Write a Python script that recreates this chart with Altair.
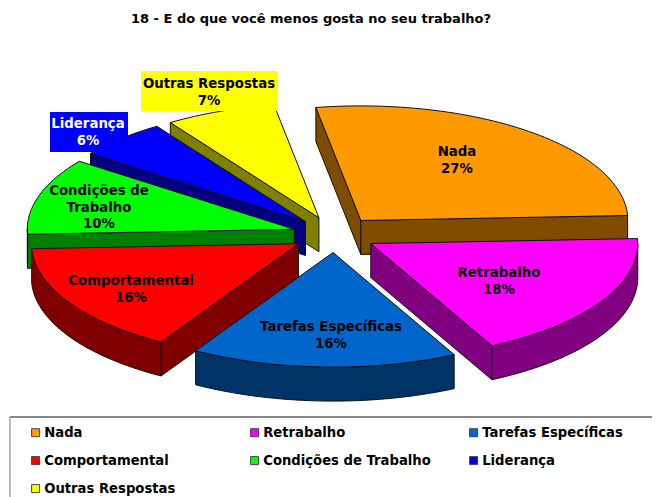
import math
import altair as alt
import pandas as pd

TITLE = "18 - E do que você menos gosta no seu trabalho?"
names = ["Nada", "Retrabalho", "Tarefas Específicas", "Comportamental",
         "Condições de Trabalho", "Liderança", "Outras Respostas"]
values = [27, 18, 16, 16, 10, 6, 7]
slice_shares = [27, 18.2, 16.1, 15.7, 10.8, 5.5, 6.7]
colors = ["#FF9900", "#FF00FF", "#0066CC", "#FF0000", "#00FF00", "#0000FF", "#FFFF00"]
sides = ["#804D00", "#800080", "#003366", "#800000", "#008000", "#000080", "#808000"]
label_lines = ["Nada", "Retrabalho", "Tarefas Específicas", "Comportamental",
               "Condições de\nTrabalho", "Liderança", "Outras Respostas"]

# layout (page pixels)
PAD_TOP = 30
ORIGIN_X, ORIGIN_Y = 8, 8 + PAD_TOP
W, H = 644, 497 - ORIGIN_Y
CX, CY = 334.5, 234.5
RX, RY = 267, 114.6
EX, EY = 42, 18
DEPTH = 34
START = -9.7
paint_order = [6, 5, 4, 3, 0, 1, 2]
label_pos = [(457, 152), (499, 273), (331, 327), (131, 281), (99, 191), (88, 124), (209, 84)]
label_color = ["black"] * 5 + ["white", "black"]
boxes = [(5, 50, 128, 112, 152), (6, 141, 278, 71, 111)]

xs = alt.Scale(domain=[ORIGIN_X, ORIGIN_X + W], nice=False, zero=False)
ys = alt.Scale(domain=[ORIGIN_Y + H, ORIGIN_Y], nice=False, zero=False)
X = lambda f="x": alt.X(f"{f}:Q", scale=xs, axis=None)
Y = lambda f="y": alt.Y(f"{f}:Q", scale=ys, axis=None)

total = sum(slice_shares)
spans = []
a = START
for v in slice_shares:
    b = a + 360 * v / total
    spans.append((a, b))
    a = b


def pt(ax, ay, t, dy=0):
    r = math.radians(t)
    return ax + RX * math.sin(r), ay - RY * math.cos(r) + dy


def arc(ax, ay, t0, t1, dy=0):
    n = max(2, int(abs(t1 - t0) / 1.5))
    return [pt(ax, ay, t0 + (t1 - t0) * k / n, dy) for k in range(n + 1)]


def rows(poly, key):
    poly = list(poly) + [poly[0]]
    return [{"p": key, "i": i, "x": p[0], "y": p[1]} for i, p in enumerate(poly)]


layers = []
for idx in paint_order:
    t0, t1 = spans[idx]
    mid = math.radians((t0 + t1) / 2)
    ax, ay = CX + EX * math.sin(mid), CY - EY * math.cos(mid)
    wall = []
    # only the radial faces turned towards the viewer are drawn
    faces = []
    if math.sin(math.radians(t0)) < 0:
        faces.append(t0)
    if math.sin(math.radians(t1)) > 0:
        faces.append(t1)
    for n, t in enumerate(faces):
        e = pt(ax, ay, t)
        wall += rows([(ax, ay), e, (e[0], e[1] + DEPTH), (ax, ay + DEPTH)], f"r{n}")
    lo, hi = max(t0, 90), min(t1, 270)
    if lo < hi:
        wall += rows(arc(ax, ay, lo, hi) + arc(ax, ay, hi, lo, DEPTH), "arc")
    layers.append(
        alt.Chart(pd.DataFrame(wall))
        .mark_line(fill=sides[idx], stroke="#111111", strokeWidth=1, strokeJoin="round")
        .encode(x=X(), y=Y(), detail="p:N", order="i:Q")
    )
    top = rows([(ax, ay)] + arc(ax, ay, t0, t1), "top")
    for r in top:
        r["name"] = names[idx]
    layers.append(
        alt.Chart(pd.DataFrame(top))
        .mark_line(stroke="#111111", strokeWidth=1, strokeJoin="round")
        .encode(
            x=X(), y=Y(), order="i:Q",
            fill=alt.Fill(
                "name:N",
                sort=names,
                scale=alt.Scale(domain=names, range=colors),
                legend=alt.Legend(
                    title=None, orient="none", direction="horizontal",
                    legendX=21, legendY=426 - ORIGIN_Y,
                    columns=3, gridAlign="all", columnPadding=36, rowPadding=14,
                    symbolType="square", symbolSize=64, symbolStrokeColor="#444444",
                    symbolStrokeWidth=1, labelFont="DejaVu Sans", labelFontWeight="bold",
                    labelFontSize=13.2, labelColor="black", labelLimit=300, padding=0,
                    symbolOpacity=1, labelOffset=2,
                ),
            ),
        )
    )

box_df = pd.DataFrame(
    [{"x": b[1], "x2": b[2], "y": b[3], "y2": b[4], "c": colors[b[0]]} for b in boxes]
)
layers.append(
    alt.Chart(box_df).mark_rect().encode(
        x=X(), x2="x2:Q", y=Y(), y2="y2:Q", color=alt.Color("c:N", scale=None, legend=None)
    )
)

lab_df = pd.DataFrame(
    [
        {"x": p[0], "y": p[1], "t": f"{l}\n{v}%", "c": c}
        for p, l, v, c in zip(label_pos, label_lines, values, label_color)
    ]
)
layers.append(
    alt.Chart(lab_df)
    .mark_text(font="DejaVu Sans", fontWeight="bold", fontSize=13.3, lineBreak="\n",
               lineHeight=16.5, align="center", baseline="middle")
    .encode(x=X(), y=Y(), text="t:N", color=alt.Color("c:N", scale=None, legend=None))
)

# legend frame: runs off the page on the right and bottom
frame = pd.DataFrame([
    {"x": 10, "x2": ORIGIN_X + W, "y": 417, "y2": 417, "c": "#111111"},
    {"x": 10, "x2": 10, "y": 417, "y2": ORIGIN_Y + H, "c": "#777777"},
])
layers.append(
    alt.Chart(frame).mark_rule(strokeWidth=1).encode(
        x=X(), x2="x2:Q", y=Y(), y2="y2:Q", color=alt.Color("c:N", scale=None, legend=None)
    )
)

chart = (
    alt.layer(*layers)
    .properties(
        width=W, height=H,
        title=alt.TitleParams(TITLE, anchor="start", dx=123, font="DejaVu Sans", fontSize=13,
                              fontWeight="bold", color="black", offset=12),
        autosize=alt.AutoSizeParams(type="none"),
        padding={"left": 0, "top": PAD_TOP, "right": 0, "bottom": 0},
    )
    .configure_view(stroke=None)
)
chart.save("out.html", embed_options={"renderer": "svg", "actions": False})
